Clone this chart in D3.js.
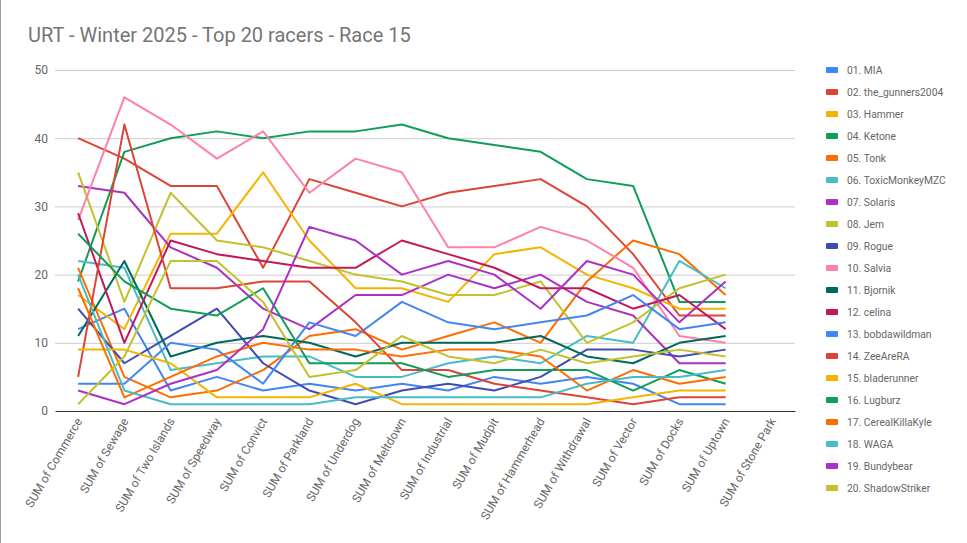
<!DOCTYPE html>
<html>
<head>
<meta charset="utf-8">
<script src="https://cdn.jsdelivr.net/npm/d3@7"></script>
<style>
  html, body { margin: 0; padding: 0; background: #fff; }
  svg { display: block; font-family: Roboto, "Noto Sans", Arial, sans-serif; }
</style>
</head>
<body>
<svg id="chart" width="967" height="543"></svg>
<script>
const categories = ["SUM of Commerce","SUM of Sewage","SUM of Two Islands","SUM of Speedway","SUM of Convict","SUM of Parkland","SUM of Underdog","SUM of Meltdown","SUM of Industrial","SUM of Mudpit","SUM of Hammerhead","SUM of Withdrawal","SUM of Vector","SUM of Docks","SUM of Uptown","SUM of Stone Park"];
const yTicks = [0, 10, 20, 30, 40, 50];
const seriesNames = ["01. MIA","02. the_gunners2004","03. Hammer","04. Ketone","05. Tonk","06. ToxicMonkeyMZC","07. Solaris","08. Jem","09. Rogue","10. Salvia","11. Bjornik","12. celina","13. bobdawildman","14. ZeeAreRA","15. bladerunner","16. Lugburz","17. CerealKillaKyle","18. WAGA","19. Bundybear","20. ShadowStriker"];
const s01 = [12,15,3,5,3,4,3,4,3,5,4,5,4,1,1];
const s02 = [40,37,33,33,21,34,32,30,32,33,34,30,23,14,14];
const s03 = [17,12,26,26,35,25,18,18,16,23,24,20,18,15,15];
const s04 = [19,38,40,41,40,41,41,42,40,39,38,34,33,16,16];
const s05 = [21,5,2,3,6,11,12,9,11,13,10,19,25,23,17];
const s06 = [22,21,6,7,8,8,5,5,7,8,7,11,10,22,18];
const s07 = [33,32,24,21,15,12,17,17,20,18,20,16,14,7,7];
const s08 = [35,16,32,25,24,22,20,19,17,17,19,10,13,18,20];
const s09 = [15,7,11,15,7,3,1,3,4,3,5,9,9,8,9];
const s10 = [28,46,42,37,41,32,37,35,24,24,27,25,21,11,10];
const s11 = [11,22,8,10,11,10,8,10,10,10,11,8,7,10,11];
const s12 = [29,10,25,23,22,21,21,25,23,21,18,18,15,17,12];
const s13 = [4,4,10,9,4,13,11,16,13,12,13,14,17,12,13];
const s14 = [5,42,18,18,19,19,13,6,6,4,3,2,1,2,2];
const s15 = [9,9,7,2,2,2,4,1,1,1,1,1,2,3,3];
const s16 = [26,19,15,14,18,7,7,7,5,6,6,6,3,6,4];
const s17 = [18,2,5,8,10,9,9,8,9,9,8,3,6,4,5];
const s18 = [20,3,1,1,1,1,2,2,2,2,2,4,5,5,6];
const s19 = [3,1,4,6,12,27,25,20,22,20,15,22,20,13,19];
const s20 = [1,8,22,22,16,5,6,11,8,7,9,7,8,9,8];
const seriesValues = [s01,s02,s03,s04,s05,s06,s07,s08,s09,s10,s11,s12,s13,s14,s15,s16,s17,s18,s19,s20];

const palette = ["#4285F4","#DB4437","#F4B400","#0F9D58","#FF6D00","#46BDC6","#AB30C4","#C2C12E","#3F4DB0","#FF7FAB","#00695C","#C2185B"];

(function () {
const svg = d3.select("#chart");
const W = 967, H = 543;
svg.append("rect").attr("x",0).attr("y",0).attr("width",W).attr("height",H).attr("fill","#fff");
svg.append("line").attr("x1",0.5).attr("x2",0.5).attr("y1",0).attr("y2",H).attr("stroke","#9e9e9e").attr("stroke-width",1);

const pL = 55, pR = 795, pT = 70, pB = 411;
const x = d3.scalePoint().domain(categories).range([pL, pR]).padding(0.5);
const y = d3.scaleLinear().domain([0, 50]).range([pB, pT]);

svg.append("text").attr("x", 28).attr("y", 42)
  .attr("font-size", 20).attr("fill", "#757575").text("URT - Winter 2025 - Top 20 racers - Race 15");

const grid = svg.append("g").attr("transform", `translate(${pL},0)`)
  .call(d3.axisLeft(y).tickValues(yTicks.filter(t => t > 0)).tickSize(-(pR - pL)).tickFormat(""));
grid.select(".domain").remove();
grid.selectAll("line").attr("stroke", "#cccccc").attr("stroke-width", 1);

const yAx = svg.append("g").attr("transform", `translate(${pL},0)`)
  .call(d3.axisLeft(y).tickValues(yTicks).tickSize(0).tickPadding(7));
yAx.select(".domain").remove();
yAx.selectAll("text").attr("font-size", 12).attr("fill", "#666").attr("font-family", "Roboto, sans-serif");

const xAx = svg.append("g").attr("transform", `translate(0,${pB})`)
  .call(d3.axisBottom(x).tickSize(0).tickPadding(0));
xAx.select(".domain").attr("stroke", "#333").attr("stroke-width", 1.2);
xAx.selectAll("text")
  .attr("font-size", 12).attr("fill", "#666").attr("font-family", "Roboto, sans-serif")
  .attr("text-anchor", "end").attr("dy", null).attr("y", 0)
  .attr("transform", "translate(4,10) rotate(-60)");

const line = d3.line().x((d, i) => x(categories[i])).y(d => y(d));
const lines = svg.append("g");
seriesValues.forEach((vals, i) => {
  lines.append("path").attr("d", line(vals)).attr("fill", "none")
    .attr("stroke", palette[i % palette.length]).attr("stroke-width", 2)
    .attr("stroke-linejoin", "round");
});

const lg = svg.append("g");
seriesNames.forEach((n, i) => {
  const yy = 70 + i * 22;
  lg.append("rect").attr("x", 826).attr("y", yy - 3).attr("width", 12).attr("height", 6).attr("rx", 1)
    .attr("fill", palette[i % palette.length]);
  lg.append("text").attr("x", 847).attr("y", yy + 4).attr("font-size", 10.3).attr("fill", "#666")
    .attr("font-family", "Roboto, sans-serif").text(n);
});
})();
</script>
</body>
</html>
